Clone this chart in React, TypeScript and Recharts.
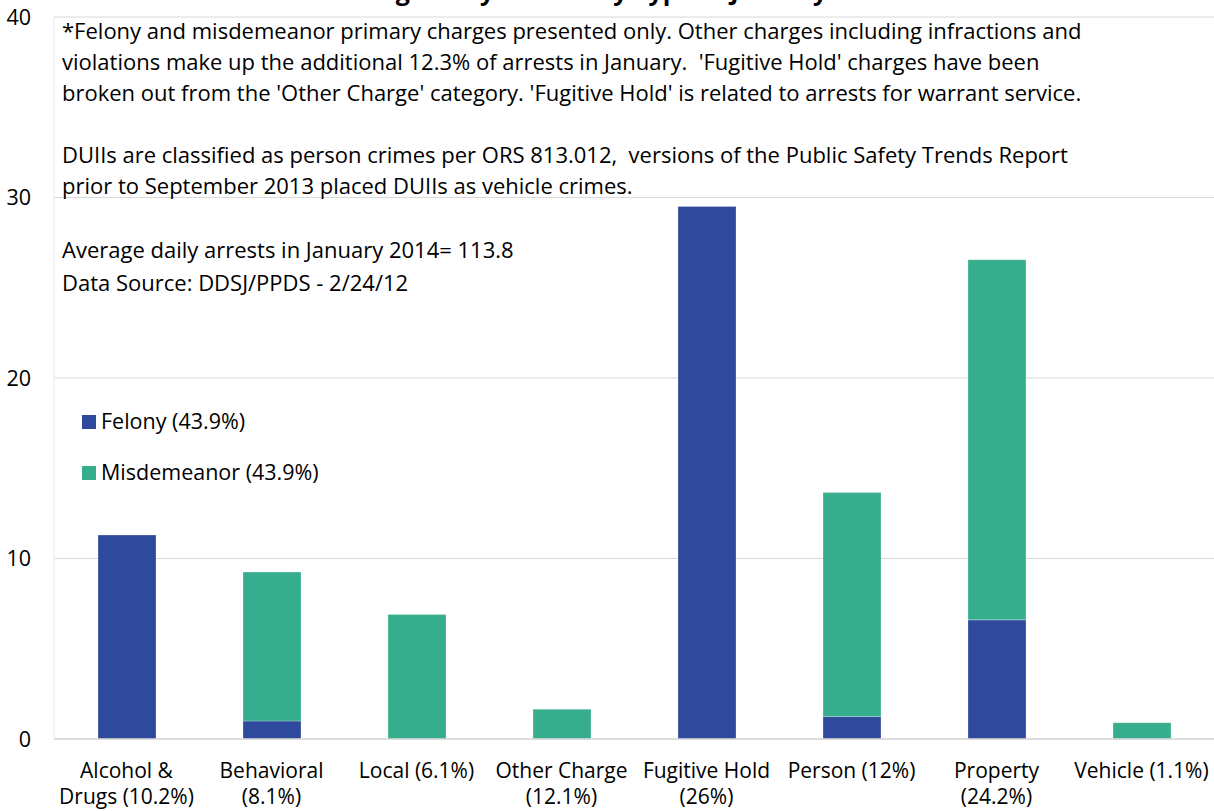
import React from "react";
import {
  BarChart,
  Bar,
  XAxis,
  YAxis,
  CartesianGrid,
  Legend,
} from "recharts";

const categories = [
  "Alcohol & Drugs (10.2%)",
  "Behavioral (8.1%)",
  "Local (6.1%)",
  "Other Charge (12.1%)",
  "Fugitive Hold (26%)",
  "Person (12%)",
  "Property (24.2%)",
  "Vehicle (1.1%)",
];

// how each category label wraps under the axis
const categoryLines = [
  ["Alcohol &", "Drugs (10.2%)"],
  ["Behavioral", "(8.1%)"],
  ["Local (6.1%)"],
  ["Other Charge", "(12.1%)"],
  ["Fugitive Hold", "(26%)"],
  ["Person (12%)"],
  ["Property", "(24.2%)"],
  ["Vehicle (1.1%)"],
];

const felony = [11.3, 1.0, 0, 0, 29.5, 1.25, 6.6, 0];
const misdemeanor = [0, 8.25, 6.9, 1.65, 0, 12.4, 19.95, 0.9];

const yTicks = [0, 10, 20, 30, 40];

const notes = [
  "*Felony and misdemeanor primary charges presented only. Other charges including infractions and",
  "violations make up the additional 12.3% of arrests in January.  'Fugitive Hold' charges have been",
  "broken out from the 'Other Charge' category. 'Fugitive Hold' is related to arrests for warrant service.",
  "",
  "DUIIs are classified as person crimes per ORS 813.012,  versions of the Public Safety Trends Report",
  "prior to September 2013 placed DUIIs as vehicle crimes.",
];
const averageNote = "Average daily arrests in January 2014= 113.8";
const sourceNote = "Data Source: DDSJ/PPDS - 2/24/12";
const title = "Average Daily Arrests by Type in January 2014";

const FELONY_COLOR = "#2f4a9c";
const MISD_COLOR = "#36ad8c";
const FONT = "'Open Sans', Lato, sans-serif";
const TEXT_SIZE = 22;

const chartData = categories.map((c, i) => ({
  category: c,
  "Felony (43.9%)": felony[i],
  "Misdemeanor (43.9%)": misdemeanor[i],
}));

function XTick(props: any) {
  const { x, y, payload, index } = props;
  const lines = categoryLines[index] ?? [payload.value];
  return (
    <text x={x} y={y} textAnchor="middle" fill="#000" fontSize={21} fontFamily={FONT}>
      {lines.map((l: string, i: number) => (
        <tspan key={i} x={x} y={y + 39 + i * 26}>
          {l}
        </tspan>
      ))}
    </text>
  );
}

function YTick(props: any) {
  const { y, payload } = props;
  return (
    <text x={31} y={y} dy="0.36em" textAnchor="end" fill="#000" fontSize={21.5} fontFamily={FONT}>
      {payload.value}
    </text>
  );
}

function LegendBox(props: any) {
  const { payload } = props;
  return (
    <div style={{ fontFamily: FONT, fontSize: 21.5, color: "#000", textAlign: "left" }}>
      {(payload || []).map((p: any, i: number) => (
        <div key={i} style={{ display: "flex", alignItems: "center", height: 26, lineHeight: "26px", marginBottom: 25 }}>
          <span style={{ width: 14, height: 14, background: p.color, display: "inline-block", marginRight: 5, marginTop: 2 }} />
          <span>{p.value}</span>
        </div>
      ))}
    </div>
  );
}

export default function App() {
  const textStyle: React.CSSProperties = {
    position: "absolute",
    left: 62,
    fontFamily: FONT,
    fontSize: TEXT_SIZE,
    lineHeight: "26px",
    color: "#000",
    whiteSpace: "pre",
  };
  return (
    <div style={{ position: "absolute", left: 0, top: 0, width: 1214, height: 811, background: "#fff", overflow: "hidden" }}>
      <div
        style={{
          position: "absolute",
          top: -25,
          left: 0,
          width: 1214,
          textAlign: "center",
          fontFamily: FONT,
          fontWeight: 700,
          fontSize: 25,
          lineHeight: "30px",
          color: "#000",
        }}
      >
        {title}
      </div>
      <BarChart
        width={1214}
        height={811}
        data={chartData}
        margin={{ top: 17, right: 0, left: 0, bottom: 0 }}
        barSize={58}
      >
        <CartesianGrid vertical={false} stroke="#d9d9d9" strokeWidth={1.2} />
        <XAxis
          dataKey="category"
          height={72}
          tickLine={false}
          tickSize={0}
          tickMargin={0}
          axisLine={{ stroke: "#d9d9d9", strokeWidth: 1.5 }}
          tick={<XTick />}
          interval={0}
        />
        <YAxis
          width={54}
          domain={[0, 40]}
          ticks={yTicks}
          tickLine={false}
          axisLine={{ stroke: "#ececec", strokeWidth: 1 }}
          tick={<YTick />}
        />
        <Legend
          layout="horizontal"
          verticalAlign="middle"
          align="center"
          wrapperStyle={{ left: 82, top: 408, width: 320, height: 110 }}
          content={<LegendBox />}
        />
        <Bar
          dataKey="Felony (43.9%)"
          stackId="a"
          fill={FELONY_COLOR}
          stroke="rgba(255,255,255,0.25)"
          strokeWidth={1}
          isAnimationActive={false}
        />
        <Bar
          dataKey="Misdemeanor (43.9%)"
          stackId="a"
          fill={MISD_COLOR}
          stroke="rgba(255,255,255,0.25)"
          strokeWidth={1}
          isAnimationActive={false}
        />
      </BarChart>
      {notes.map((n, i) => (
        <div key={i} style={{ ...textStyle, top: 17 + i * 31 }}>
          {n}
        </div>
      ))}
      <div style={{ ...textStyle, top: 236 }}>{averageNote}</div>
      <div style={{ ...textStyle, top: 269 }}>{sourceNote}</div>
    </div>
  );
}
